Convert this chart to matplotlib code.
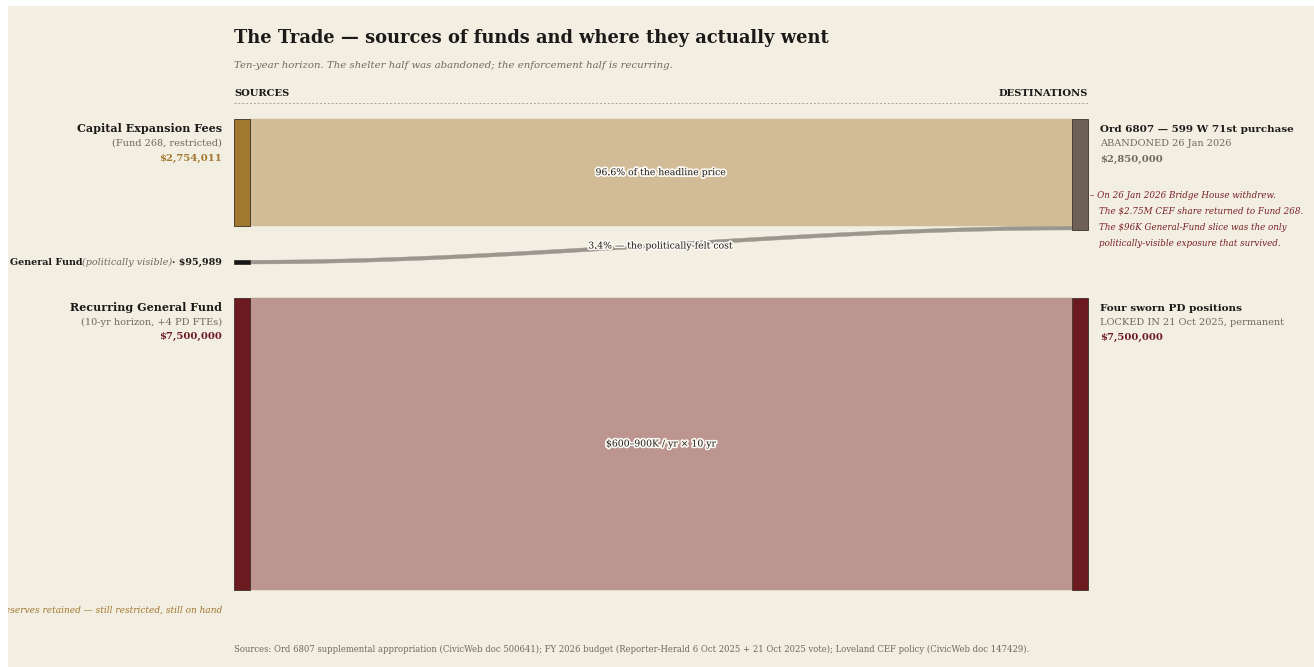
"""
  Sankey-style chart: sources of funds and where they went
"""
import matplotlib
matplotlib.use('Agg')
import matplotlib.pyplot as plt
import matplotlib.patheffects as pe
from matplotlib.patches import Rectangle, Polygon
from matplotlib.transforms import Bbox, TransformedBbox
import numpy as np

################################################################################
# Data

src_names = ['Capital Expansion Fees', 'General Fund', 'Recurring General Fund']
src_notes = ['(Fund 268, restricted)', '(politically visible)', '(10-yr horizon, +4 PD FTEs)']
src_values = [2754011, 95989, 7500000]

dst_names = ['Ord 6807 \u2014 599 W 71st purchase', 'Four sworn PD positions']
dst_notes = ['ABANDONED 26 Jan 2026', 'LOCKED IN 21 Oct 2025, permanent']
dst_values = [2850000, 7500000]

# links: (source index, destination index, value, label)
link_src = [0, 1, 2]
link_dst = [0, 0, 1]
link_values = [2754011, 95989, 7500000]
link_labels = ['96.6% of the headline price',
               '3.4% \u2014 the politically-felt cost',
               '$600\u2013900K / yr \u00d7 10 yr']

note_lines = ['\u2013 On 26 Jan 2026 Bridge House withdrew.',
              'The $2.75M CEF share returned to Fund 268.',
              'The $96K General-Fund slice was the only',
              'politically-visible exposure that survived.']

################################################################################
# Style

BG = '#F2EEE2'
INK = '#1c1a18'
GREY = '#6e6862'
GOLD = '#A2772E'
RED = '#6C1A20'
node_colors = ['#A2772E', '#161616', '#6C1A20']
dst_colors = ['#6C6057', '#6C1A20']
link_colors = ['#D2BC97', '#9C978E', '#BC9590']
amt_src_colors = [GOLD, INK, RED]
amt_dst_colors = [GREY, RED]

plt.rcParams['font.family'] = ['DejaVu Serif']

W, H = 1314, 667
fig = plt.figure(figsize=(W / 100, H / 100), dpi=100, facecolor='white')
ax = fig.add_axes([0, 0, 1, 1])
ax.set_xlim(0, W)
ax.set_ylim(H, 0)
ax.axis('off')

panel = Rectangle((8, 6), W - 8, H - 6, facecolor=BG, edgecolor='none', zorder=0)
ax.add_patch(panel)

# layout
scale = 292.0 / 7500000   # px per dollar
top = 119
x_src0, x_src1 = 234, 250
x_dst0, x_dst1 = 1072, 1088
src_gap = 34
dst_gap = 68

src_y = []
y = top
for v in src_values:
  src_y.append(y)
  y += v * scale + src_gap
dst_y = []
y = top
for v in dst_values:
  dst_y.append(y)
  y += v * scale + dst_gap

# links
src_off = list(src_y)
dst_off = list(dst_y)
t = np.linspace(0, 1, 80)
xs = x_src1 + (x_dst0 - x_src1) * t
for s, d, v, c, lab in zip(link_src, link_dst, link_values, link_colors, link_labels):
  h = v * scale
  y0 = src_off[s]
  y1 = dst_off[d]
  src_off[s] += h
  dst_off[d] += h
  ease = 3 * t**2 - 2 * t**3
  ytop = y0 + (y1 - y0) * ease
  ybot = ytop + h
  pts = np.vstack([np.column_stack([xs, ytop]), np.column_stack([xs[::-1], ybot[::-1]])])
  ax.add_patch(Polygon(pts, closed=True, facecolor=c, edgecolor=c, lw=0.3, zorder=1))
  if h > 20:
    ly = (y0 + y1) / 2 + h / 2
  else:
    ly = 246
  ax.text((x_src1 + x_dst0) / 2, ly, lab, ha='center', va='center', fontsize=6.7,
          color=INK, zorder=5,
          path_effects=[pe.withStroke(linewidth=2.5, foreground='#FBF8F1')])

# nodes
for i, v in enumerate(src_values):
  ax.add_patch(Rectangle((x_src0, src_y[i]), x_src1 - x_src0, v * scale,
                         facecolor=node_colors[i], edgecolor='#3a3027', lw=0.6, zorder=3))
for i, v in enumerate(dst_values):
  ax.add_patch(Rectangle((x_dst0, dst_y[i]), x_dst1 - x_dst0, v * scale,
                         facecolor=dst_colors[i], edgecolor='#3a3027', lw=0.6, zorder=3))

# source labels
lx = 222
for i in [0, 2]:
  y0 = src_y[i]
  ax.text(lx, y0 + 10, src_names[i], ha='right', va='center', fontsize=8,
          fontweight='bold', color=INK)
  ax.text(lx, y0 + 24, src_notes[i], ha='right', va='center', fontsize=7, color=GREY)
  ax.text(lx, y0 + 39, '${:,}'.format(src_values[i]), ha='right', va='center',
          fontsize=7.2, fontweight='bold', color=amt_src_colors[i])

# general fund label built right to left
fig.canvas.draw()
rend = fig.canvas.get_renderer()
gy = src_y[1] + src_values[1] * scale / 2
inv = ax.transData.inverted()
cur = lx
for txt, st, wt, col in [('\u00b7 ${:,}'.format(src_values[1]), 'normal', 'bold', INK),
                         (src_notes[1], 'italic', 'normal', GREY),
                         (src_names[1], 'normal', 'bold', INK)]:
  tt = ax.text(cur, gy, txt, ha='right', va='center', fontsize=6.95, fontstyle=st,
               fontweight=wt, color=col)
  bb = tt.get_window_extent(rend)
  cur = inv.transform((bb.x0, bb.y0))[0] + 0.5

# destination labels
rx = 1100
for i in range(len(dst_values)):
  y0 = dst_y[i]
  ax.text(rx, y0 + 11, dst_names[i], ha='left', va='center', fontsize=7.5,
          fontweight='bold', color=INK)
  ax.text(rx, y0 + 25, dst_notes[i], ha='left', va='center', fontsize=7, color=GREY)
  ax.text(rx, y0 + 40, '${:,}'.format(dst_values[i]), ha='left', va='center',
          fontsize=7.2, fontweight='bold', color=amt_dst_colors[i])

for k, line in enumerate(note_lines):
  xx = 1090 if k == 0 else 1099
  ax.text(xx, 195 + k * 16, line, ha='left', va='center', fontsize=6.3,
          fontstyle='italic', color='#7A1F27')

# reserves note, clipped at the panel edge like the original
rt = ax.text(lx, 610, 'CEF reserves retained \u2014 still restricted, still on hand',
             ha='right', va='center', fontsize=6.5, fontstyle='italic', color=GOLD)
rt.set_clip_box(TransformedBbox(Bbox([[8, 6], [W, H]]), ax.transData))
rt.set_clip_on(True)

# titles
ax.text(234, 38, 'The Trade \u2014 sources of funds and where they actually went',
        ha='left', va='center', fontsize=12.9, fontweight='bold', color=INK)
ax.text(234, 65, 'Ten-year horizon. The shelter half was abandoned; the enforcement half is recurring.',
        ha='left', va='center', fontsize=7.25, fontstyle='italic', color=GREY)
ax.text(234, 93, 'SOURCES', ha='left', va='center', fontsize=7.2, fontweight='bold', color=INK)
ax.text(x_dst1, 93, 'DESTINATIONS', ha='right', va='center', fontsize=7.2,
        fontweight='bold', color=INK)
ax.plot([234, x_dst1], [103, 103], color='#a8a299', lw=0.7, ls=(0, (2, 2)))

ax.text(234, 649, 'Sources: Ord 6807 supplemental appropriation (CivicWeb doc 500641); '
        'FY 2026 budget (Reporter-Herald 6 Oct 2025 + 21 Oct 2025 vote); '
        'Loveland CEF policy (CivicWeb doc 147429).',
        ha='left', va='center', fontsize=6.15, color=GREY)

plt.savefig('out.png', dpi=100, facecolor='white')
